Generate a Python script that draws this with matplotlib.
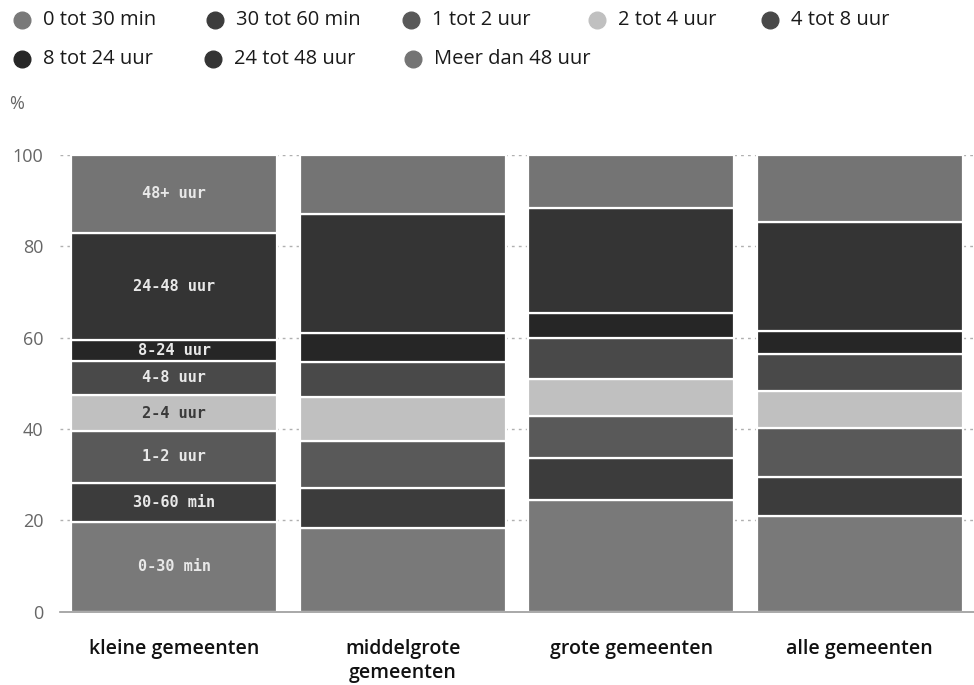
import matplotlib
matplotlib.use("Agg")
import matplotlib.pyplot as plt
import numpy as np
from matplotlib.lines import Line2D

# Categories and series (percent of cases per response time)
categories = ["kleine gemeenten", "middelgrote\ngemeenten", "grote gemeenten", "alle gemeenten"]
series_names = ["0 tot 30 min", "30 tot 60 min", "1 tot 2 uur", "2 tot 4 uur",
                "4 tot 8 uur", "8 tot 24 uur", "24 tot 48 uur", "Meer dan 48 uur"]
short_labels = ["0-30 min", "30-60 min", "1-2 uur", "2-4 uur",
                "4-8 uur", "8-24 uur", "24-48 uur", "48+ uur"]

v_0_30 = [19.6, 18.4, 24.5, 20.9]
v_30_60 = [8.6, 8.7, 9.1, 8.7]
v_1_2 = [11.4, 10.3, 9.3, 10.6]
v_2_4 = [7.8, 9.6, 8.1, 8.2]
v_4_8 = [7.6, 7.7, 8.9, 8.0]
v_8_24 = [4.6, 6.3, 5.4, 5.1]
v_24_48 = [23.4, 26.1, 23.2, 23.8]
v_48_plus = [17.0, 12.9, 11.5, 14.7]

series = [v_0_30, v_30_60, v_1_2, v_2_4, v_4_8, v_8_24, v_24_48, v_48_plus]
colors = ["#797979", "#3c3c3c", "#595959", "#c0c0c0",
          "#494949", "#262626", "#343434", "#747474"]
label_colors = ["#e8e8e8", "#e8e8e8", "#e8e8e8", "#3a3a3a",
                "#e8e8e8", "#e8e8e8", "#e8e8e8", "#e8e8e8"]
yticks = [0, 20, 40, 60, 80, 100]

W, H = 974, 685
fig = plt.figure(figsize=(W / 100, H / 100), dpi=100)
ax = fig.add_axes([60 / W, 1 - 611.7 / H, 914 / W, (611.7 - 155) / H])

x = np.arange(len(categories))
bottom = np.zeros(len(categories))
for vals, col, lab, lcol in zip(series, colors, short_labels, label_colors):
    vals = np.array(vals)
    ax.bar(x, vals, bottom=bottom, width=0.9, color=col, edgecolor="white",
           linewidth=1.6, zorder=2)
    # band labels only on the first bar
    ax.text(x[0], bottom[0] + vals[0] / 2, lab, ha="center", va="center",
            color=lcol, fontsize=11, family="DejaVu Sans Mono", fontweight="bold",
            zorder=3)
    bottom += vals

ax.set_xlim(-0.5, 3.5)
ax.set_ylim(0, 100)
ax.set_yticks(yticks)
ax.set_yticklabels([str(t) for t in yticks], fontsize=13, color="#666666",
                   family="Open Sans")
ax.set_xticks(x)
ax.set_xticklabels(categories, fontsize=14, color="#111111", family="Open Sans",
                   fontweight="semibold", linespacing=1.25)
ax.tick_params(axis="y", length=0, pad=12)
ax.tick_params(axis="x", length=0, pad=20)
for s in ["top", "right", "left"]:
    ax.spines[s].set_visible(False)
ax.spines["bottom"].set_color("#9a9a9a")
ax.spines["bottom"].set_linewidth(1.2)
for t in yticks[1:]:
    ax.axhline(t, color="#b0b0b0", linestyle=(0, (2, 3)), linewidth=1, zorder=1)

fig.text(9 / W, 1 - 104 / H, "%", fontsize=13, color="#666666",
         family="Open Sans", va="center")

# Legend laid out in two rows of circles with text
legend_pos = [(22, 20), (215, 20), (411, 20), (597, 20), (770, 20),
              (22, 59), (213, 59), (413, 59)]
for (px, py), name, col in zip(legend_pos, series_names, colors):
    fig.add_artist(Line2D([px / W], [1 - py / H], marker="o", markersize=12,
                          color=col, linestyle="none", transform=fig.transFigure))
    fig.text((px + 21) / W, 1 - py / H, name, fontsize=14.5, color="#1a1a1a",
             family="Open Sans", va="center")

fig.savefig("out.png", dpi=100)
